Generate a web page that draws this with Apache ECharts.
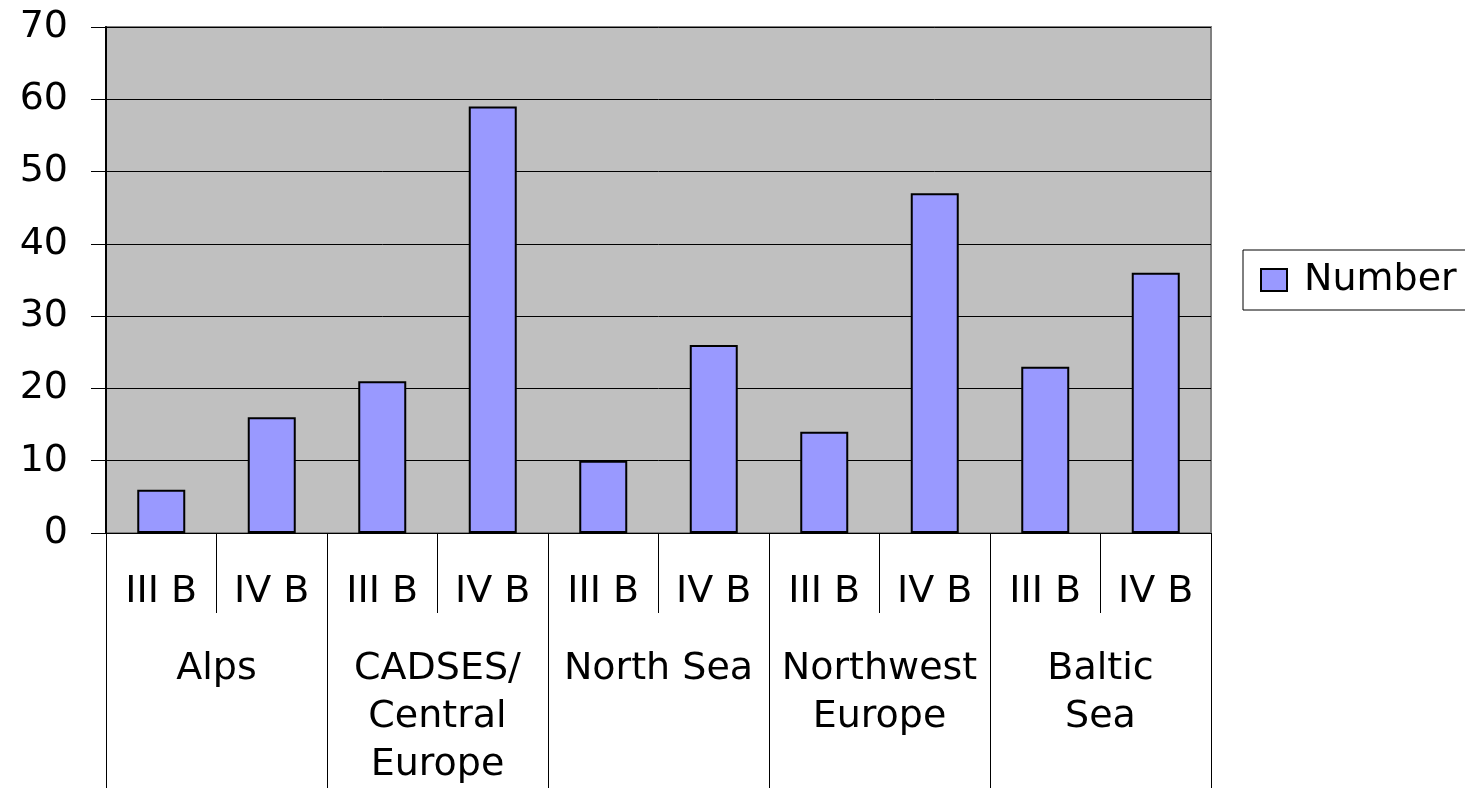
<!DOCTYPE html>
<html>
<head>
<meta charset="utf-8">
<script src="https://cdn.jsdelivr.net/npm/echarts@6/dist/echarts.min.js"></script>
<style>
html,body{margin:0;padding:0;background:#fff;}
#chart{width:1465px;height:789px;}
</style>
</head>
<body>
<div id="chart"></div>
<script>
const subCategories = ['III B','IV B','III B','IV B','III B','IV B','III B','IV B','III B','IV B'];
const groups = ['Alps','CADSES/\nCentral\nEurope','North Sea','Northwest\nEurope','Baltic\nSea'];
const values = [6, 16, 21, 59, 10, 26, 14, 47, 23, 36];
const seriesName = 'Number';

const FONT = 'DejaVu Sans';
const chart = echarts.init(document.getElementById('chart'));
chart.setOption({
  animation: false,
  backgroundColor: '#ffffff',
  grid: {
    left: 106, right: 254, top: 27, bottom: 255,
    show: true, backgroundColor: '#C0C0C0', borderColor: '#808080', borderWidth: 2
  },
  legend: {
    left: 1243, top: 250,
    padding: [11, 30, 11, 17],
    borderColor: '#000', borderWidth: 1,
    itemWidth: 26, itemHeight: 22,
    icon: 'rect',
    itemStyle: { color: '#9999FF', borderColor: '#000', borderWidth: 2 },
    textStyle: { fontFamily: FONT, fontSize: 38, color: '#000', padding: [0,0,0,12] },
    data: [seriesName]
  },
  xAxis: [
    {
      type: 'category', data: subCategories, position: 'bottom',
      axisLine: { show: true, lineStyle: { color: '#000', width: 1 } },
      axisTick: { show: true, length: 80, lineStyle: { color: '#000', width: 1 } },
      axisLabel: { interval: 0, margin: 38, fontFamily: FONT, fontSize: 38, color: '#000', lineHeight: 42 },
      splitLine: { show: false }
    },
    {
      type: 'category', data: groups, position: 'bottom', offset: 0,
      axisLine: { show: false },
      axisTick: { show: true, length: 255, lineStyle: { color: '#000', width: 1 } },
      axisLabel: { interval: 0, margin: 112, fontFamily: FONT, fontSize: 38, color: '#000', lineHeight: 48, verticalAlign: 'top' },
      splitLine: { show: false }
    }
  ],
  yAxis: {
    type: 'value', min: 0, max: 70, interval: 10,
    axisLine: { show: true, lineStyle: { color: '#000', width: 2 } },
    axisTick: { show: true, length: 15, lineStyle: { color: '#000', width: 1 } },
    axisLabel: { margin: 38, fontFamily: FONT, fontSize: 38, color: '#000' },
    splitLine: { show: true, lineStyle: { color: '#000', width: 1 } }
  },
  series: [{
    name: seriesName, type: 'bar', xAxisIndex: 0, data: values,
    barWidth: 48,
    itemStyle: { color: '#9999FF', borderColor: '#000', borderWidth: 2 }
  }]
});
</script>
</body>
</html>
